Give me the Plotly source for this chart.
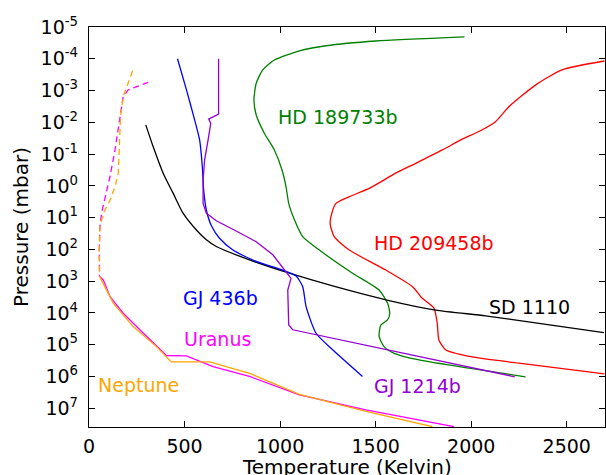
import numpy as np
import plotly.graph_objects as go

# temperatures in K, pressures given as log10(p / mbar)
hd189_t = [1965, 1501, 1240, 1101, 970, 909, 875, 863, 875, 918, 970, 1010, 1031,
           1045, 1075, 1118, 1205, 1379, 1518, 1562, 1574, 1562, 1527, 1518, 1544,
           1597, 1727, 1988, 2284]
hd189_logp = [-4.69, -4.56, -4.41, -4.25, -3.96, -3.65, -3.23, -2.70, -2.23, -1.65,
              -1.13, -0.50, 0.03, 0.55, 1.07, 1.60, 2.02, 2.75, 3.28, 3.69, 4.01,
              4.22, 4.38, 4.74, 5.06, 5.27, 5.48, 5.74, 6.01]

hd209_t = [2697, 2475, 2336, 2197, 2127, 2040, 1953, 1849, 1710, 1605, 1466, 1362,
           1292, 1266, 1262, 1283, 1362, 1553, 1692, 1744, 1805, 1822, 1831, 1866,
           1988, 2249, 2697]
hd209_logp = [-3.93, -3.65, -3.17, -2.49, -2.02, -1.71, -1.47, -1.13, -0.71, -0.40,
              0.08, 0.34, 0.55, 0.97, 1.20, 1.60, 2.02, 2.65, 3.17, 3.54, 3.85, 4.32,
              4.85, 5.16, 5.37, 5.58, 5.92]

sd1110_t = [297, 336, 388, 440, 492, 562, 614, 666, 840, 1049, 1275, 1570, 1814,
            2075, 2318, 2694]
sd1110_logp = [-1.92, -1.23, -0.40, 0.23, 0.86, 1.39, 1.70, 1.91, 2.33, 2.75, 3.15,
               3.61, 3.91, 4.09, 4.30, 4.62]

gj436_t = [463, 510, 553, 579, 593, 600, 614, 640, 683, 753, 875, 1014, 1084, 1118,
           1136, 1188, 1275, 1431]
gj436_logp = [-4.0, -3.02, -2.07, -1.44, -0.60, 0.13, 0.76, 1.25, 1.65, 2.02, 2.38,
              2.65, 2.84, 3.17, 3.80, 4.64, 5.16, 6.00]

gj1214_t = [678, 678, 626, 637, 623, 605, 597, 597, 614, 666, 770, 875, 962, 1023,
            1057, 1040, 1045, 1066, 2228]
gj1214_logp = [-4.0, -2.26, -2.10, -1.97, -1.44, -0.82, -0.19, 0.55, 0.86, 1.10,
               1.42, 1.76, 2.17, 2.65, 2.91, 3.28, 4.38, 4.53, 6.01]

uranus_top_t = [310, 205, 179, 153, 136, 110, 84, 66, 57, 54, 55]
uranus_top_logp = [-3.26, -3.02, -2.81, -1.77, -1.13, -0.30, 0.33, 0.85, 1.29, 2.0, 2.85]
uranus_t = [55, 75, 110, 179, 266, 405, 510, 649, 840, 1101, 1449, 1910]
uranus_logp = [2.85, 2.96, 3.49, 4.01, 4.53, 5.34, 5.35, 5.69, 6.00, 6.58, 7.05, 7.58]

neptune_top_t = [228, 179, 165, 160, 153, 136, 110, 75, 57, 54, 55]
neptune_top_logp = [-3.62, -2.81, -2.18, -1.13, -0.40, 0.03, 0.45, 0.87, 1.29, 2.0, 2.85]
neptune_t = [55, 75, 127, 231, 353, 431, 631, 840, 1101, 1449, 1797]
neptune_logp = [2.85, 3.07, 3.69, 4.43, 5.06, 5.54, 5.54, 5.90, 6.56, 7.10, 7.58]

# label text, position (T, log10 p), colour
labels = [
    ("HD 189733b", 1304, -2.17, "green"),
    ("HD 209458b", 1805, 1.81, "red"),
    ("SD 1110", 2303, 3.82, "black"),
    ("GJ 436b", 689, 3.54, "blue"),
    ("Uranus", 670, 4.82, "magenta"),
    ("Neptune", 257, 6.27, "orange"),
    ("GJ 1214b", 1720, 6.29, "darkviolet"),
]

decades = list(range(-5, 8))

FONT = "DejaVu Sans"

fig = go.Figure()


def add_profile(t, logp, color, dash="solid", smooth=True):
    fig.add_trace(go.Scatter(
        x=t, y=10 ** np.array(logp, dtype=float), mode="lines",
        line=dict(color=color, width=1.3, dash=dash,
                  shape="spline" if smooth else "linear", smoothing=0.6),
        hoverinfo="skip", showlegend=False,
    ))


add_profile(hd189_t, hd189_logp, "green")
add_profile(hd209_t, hd209_logp, "red")
add_profile(sd1110_t, sd1110_logp, "black")
add_profile(gj436_t, gj436_logp, "blue")
add_profile(gj1214_t, gj1214_logp, "darkviolet", smooth=False)
add_profile(uranus_top_t, uranus_top_logp, "magenta", "6px,4px", smooth=False)
add_profile(neptune_top_t, neptune_top_logp, "orange", "6px,4px", smooth=False)
add_profile(uranus_t, uranus_logp, "magenta", smooth=False)
add_profile(neptune_t, neptune_logp, "orange", smooth=False)

for text, t, lp, color in labels:
    fig.add_annotation(x=t, y=lp, text=text, showarrow=False,
                       font=dict(family=FONT, size=19, color=color))

# x title as an annotation: with automargin off, title.standoff can't push it lower
fig.add_annotation(xref="paper", yref="paper", x=0.5, y=-0.1, yanchor="middle",
                   text="Temperature (Kelvin)", showarrow=False,
                   font=dict(family=FONT, size=20, color="black"))

fig.update_xaxes(
    range=[0, 2700], tickvals=[0, 500, 1000, 1500, 2000, 2500],
    ticks="inside", ticklen=6, tickwidth=1.3, tickcolor="black",
    showline=True, linecolor="black", linewidth=1.3, mirror="ticks",
    showgrid=False, zeroline=False, automargin=False, ticklabelstandoff=2,
    tickfont=dict(family=FONT, size=19, color="black"),
)
fig.update_yaxes(
    type="log", range=[7.59, -5],
    tickvals=[10.0 ** d for d in decades],
    ticktext=["10<sup>%d</sup>" % d for d in decades],
    ticks="inside", ticklen=6, tickwidth=1.3, tickcolor="black",
    showline=True, linecolor="black", linewidth=1.3, mirror="ticks",
    showgrid=False, zeroline=False, automargin=False, ticklabelstandoff=6,
    tickfont=dict(family=FONT, size=19, color="black"),
    title=dict(text="Pressure (mbar)", standoff=6,
               font=dict(family=FONT, size=20, color="black")),
)
fig.update_layout(
    width=606, height=475,
    margin=dict(l=89, r=1, t=27, b=48),
    plot_bgcolor="white", paper_bgcolor="white",
    font=dict(family=FONT),
)

# drop the default 8px page margin so the figure fills the window exactly
fig.write_html("out.html", config={"displayModeBar": False},
               post_script="document.body.style.margin = '0';")
